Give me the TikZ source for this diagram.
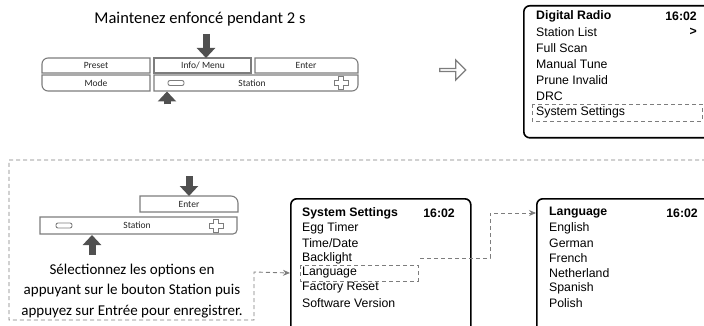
\documentclass[tikz,border=0pt]{standalone}
\usepackage{fontspec}
\setmainfont{Carlito}
\newfontfamily\lcdfont{Liberation Sans}
\usetikzlibrary{arrows.meta,positioning,shapes.arrows,calc}
\definecolor{keygray}{RGB}{125,125,125}
\definecolor{pushgray}{RGB}{80,80,80}
\definecolor{linkgray}{RGB}{125,125,125}

\begin{document}
\begin{tikzpicture}[x=1pt, y=-1pt,
    headline/.style={font=\fontsize{16.5}{18}\selectfont, inner sep=0pt},
    note/.style={font=\fontsize{15}{20.5}\selectfont, align=center, inner sep=0pt},
    keyface/.style={draw=keygray, line width=1.1pt, fill=white},
    keylabel/.style={font=\fontsize{9.5}{10}\selectfont, text=black!85, inner sep=0pt},
    keyicon/.style={draw=keygray, line width=0.9pt},
    pusharrow/.style={draw=pushgray, line width=7pt, -{Triangle[length=10pt, width=18pt]}},
    screen/.style={rectangle, draw=black, line width=1.6pt, rounded corners=6pt,
        anchor=north west, minimum width=200pt, minimum height=132pt},
    menuitem/.style={anchor=west, font=\lcdfont\fontsize{12.3}{13}\selectfont, inner sep=0pt},
    menutitle/.style={menuitem, font=\lcdfont\bfseries\fontsize{12.3}{13}\selectfont},
    selbox/.style={draw=linkgray, dash pattern=on 4pt off 3pt, line width=0.8pt},
    link/.style={draw=linkgray, dash pattern=on 4pt off 3pt, line width=0.9pt,
        -{Stealth[length=7pt, width=6pt]}}
]
\useasboundingbox (0,0) rectangle (704,326);

% Appui long sur Info/Menu
\node[headline] (hold) at (200,19) {Maintenez enfoncé pendant 2 s};

\draw[keyface] (42,73) [rounded corners=6pt] -- (42,58) [sharp corners] -- (150,58) -- (150,73) -- cycle;
\draw[keyface] (154,58) rectangle (251,73);
\draw[keyface] (255,73) -- (255,58) [rounded corners=6pt] -- (358,58) [sharp corners] -- (358,73) -- cycle;
\draw[keyface] (150,75) -- (42,75) [rounded corners=6pt] -- (42,91) [sharp corners] -- (150,91) -- cycle;
\draw[keyface] (154,75) -- (358,75) [rounded corners=6pt] -- (358,91) [sharp corners] -- (154,91) -- cycle;

\node[keylabel] (preset) at (96,65.5) {Preset};
\node[keylabel] (info) at (203,65.5) {Info/ Menu};
\node[keylabel] (enter) at (306,65.5) {Enter};
\node[keylabel] (mode) at (96,83) {Mode};
\node[keylabel] (station) at (252,83) {Station};
\draw[keyicon, rounded corners=2pt] (168,80.5) rectangle (184,85.5);
\draw[keyicon] (338.5,76.5) -- (343.5,76.5) -- (343.5,80.5) -- (348,80.5) -- (348,85.5) -- (343.5,85.5)
    -- (343.5,89.5) -- (338.5,89.5) -- (338.5,85.5) -- (334,85.5) -- (334,80.5) -- (338.5,80.5) -- cycle;

\coordinate (infotop) at (206,58);
\coordinate (minusbot) at (167,91.5);
\draw[pusharrow] ($(infotop)+(0,-24)$) -- (infotop);
\draw[pusharrow] ($(minusbot)+(0,13)$) -- (minusbot);

\node[single arrow, draw=keygray, line width=1.3pt, minimum width=20pt, minimum height=26pt,
    single arrow head extend=3.5pt, inner sep=0pt] (next) at (452,70) {};

% Menu principal
\node[screen] (radio) at (523,5) {};
\node[menutitle] (radiotitle) at (536,16) {Digital Radio};
\node[menutitle, anchor=east] (radioclock) at (697,16) {16:02};
\node[menutitle] (more) at (radioclock.east |- 0,32) [anchor=east] {>};
\node[menuitem] (stationlist) at (536,32) {Station List};
\node[menuitem] (fullscan) at (536,48) {Full Scan};
\node[menuitem] (manualtune) at (536,64) {Manual Tune};
\node[menuitem] (prune) at (536,80) {Prune Invalid};
\node[menuitem] (drc) at (536,96) {DRC};
\node[menuitem] (sysset) at (536,112) {System Settings};
\draw[selbox] (532,104) rectangle (702,121);

% Selection avec Station et Enter
\draw[keyface] (140,212) -- (140,196) [rounded corners=7pt] -- (238,196) [sharp corners] -- (238,212) -- cycle;
\draw[keyface] (40,217) -- (237,217) [rounded corners=4pt] -- (237,234) [sharp corners] -- (40,234) -- cycle;
\node[keylabel] (enterkey) at (189,204) {Enter};
\node[keylabel] (stationkey) at (137,225.5) {Station};
\draw[keyicon, rounded corners=2pt] (56,223) rectangle (72,228);
\draw[keyicon] (213.5,219.5) -- (218.5,219.5) -- (218.5,223) -- (223,223) -- (223,228) -- (218.5,228)
    -- (218.5,232) -- (213.5,232) -- (213.5,228) -- (209,228) -- (209,223) -- (213.5,223) -- cycle;

\coordinate (entertop) at (189,196);
\coordinate (stationbot) at (92,235);
\draw[pusharrow] ($(entertop)+(0,-20)$) -- (entertop);
\draw[pusharrow] ($(stationbot)+(0,20)$) -- (stationbot);

\node[note] (hint) at (132,291) {Sélectionnez les options en\\appuyant sur le bouton Station puis\\appuyez sur Entrée pour enregistrer.};

% Reglages systeme
\node[screen, minimum width=180pt, minimum height=140pt] (settings) at (290,198) {};
\node[menutitle] (settitle) at (302,213) {System Settings};
\node[menutitle, anchor=east] (setclock) at (455,213) {16:02};
\node[menuitem] (eggtimer) at (302,228) {Egg Timer};
\node[menuitem] (timedate) at (302,243) {Time/Date};
\node[menuitem] (backlight) at (302,258) {Backlight};
\node[menuitem] (language) at (302,273) {Language};
\node[menuitem] (factory) at (302,288) {Factory Reset};
\node[menuitem] (software) at (302,303) {Software Version};
\draw[selbox] (300,265) rectangle (418,281);
\coordinate (langout) at (420,258);

% Langues
\node[screen, minimum width=180pt, minimum height=140pt] (languages) at (536,198) {};
\node[menutitle] (langtitle) at (549,213) {Language};
\node[menutitle, anchor=east] (langclock) at (698,213) {16:02};
\node[menuitem] (english) at (549,228) {English};
\node[menuitem] (german) at (549,243) {German};
\node[menuitem] (french) at (549,258) {French};
\node[menuitem] (dutch) at (549,273) {Netherland};
\node[menuitem] (spanish) at (549,288) {Spanish};
\node[menuitem] (polish) at (549,303) {Polish};

% Liens
\coordinate (frame) at (720,160);
\draw[link] (frame) -| (9,320) -| (254,272) -- (settings.west |- language);
\draw[link] (langout) -- (490,258) |- (languages.west |- langtitle);

\end{tikzpicture}
\end{document}
